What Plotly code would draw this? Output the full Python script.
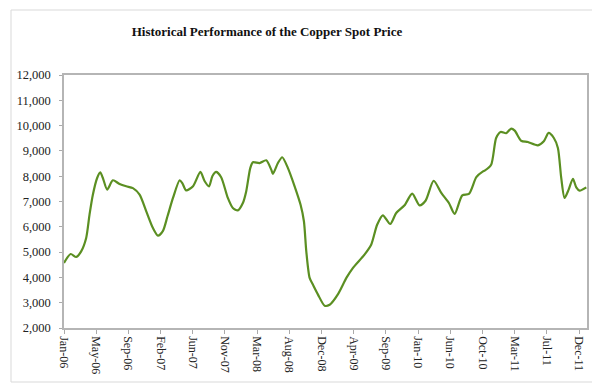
import plotly.graph_objects as go
import pandas as pd

dates = [
    "2006-01-03", "2006-01-31", "2006-02-23", "2006-03-16", "2006-04-06", "2006-04-20",
    "2006-05-04", "2006-05-22", "2006-06-04", "2006-06-15", "2006-07-03", "2006-07-27",
    "2006-08-24", "2006-09-21", "2006-10-19", "2006-11-16", "2006-12-14", "2007-01-11",
    "2007-02-01", "2007-02-22", "2007-03-13", "2007-04-05", "2007-05-03", "2007-05-14",
    "2007-05-30", "2007-06-28", "2007-07-29", "2007-08-16", "2007-09-03", "2007-09-17",
    "2007-10-03", "2007-10-24", "2007-11-21", "2007-12-12", "2008-01-02", "2008-01-23",
    "2008-02-06", "2008-02-23", "2008-03-05", "2008-04-02", "2008-04-30", "2008-05-21",
    "2008-05-28", "2008-06-18", "2008-07-06", "2008-07-30", "2008-08-27", "2008-09-21",
    "2008-10-05", "2008-10-15", "2008-10-29", "2008-11-12", "2008-12-03", "2008-12-31",
    "2009-01-21", "2009-02-25", "2009-04-01", "2009-04-28", "2009-06-16", "2009-07-14",
    "2009-08-08", "2009-09-01", "2009-10-02", "2009-10-27", "2009-12-01", "2010-01-02",
    "2010-02-02", "2010-02-27", "2010-04-02", "2010-05-04", "2010-06-05", "2010-06-29",
    "2010-07-31", "2010-08-28", "2010-09-28", "2010-10-26", "2010-11-02", "2010-11-29",
    "2010-12-20", "2011-01-08", "2011-01-31", "2011-02-21", "2011-03-08", "2011-04-04",
    "2011-05-02", "2011-06-13", "2011-07-08", "2011-07-28", "2011-08-19", "2011-09-05",
    "2011-09-19", "2011-10-03", "2011-10-20", "2011-11-07", "2011-11-21", "2011-12-05",
    "2012-01-02",
]
prices = [
    4570, 4925, 4806, 5030, 5560, 6480,
    7270, 7930, 8150, 7930, 7470, 7840,
    7690, 7600, 7530, 7270, 6610, 5950,
    5650, 5840, 6415, 7140, 7840, 7730,
    7440, 7600, 8170, 7800, 7600, 8000,
    8170, 7960, 7140, 6740, 6650, 6940,
    7400, 8320, 8550, 8520, 8630, 8260,
    8090, 8520, 8750, 8320, 7600, 6870,
    6220, 5030, 3980, 3710, 3320, 2880,
    2920, 3340, 3980, 4370, 4900, 5290,
    6080, 6455, 6110, 6545, 6850, 7310,
    6850, 7030, 7820, 7340, 6940, 6510,
    7245, 7300, 7960, 8190, 8220, 8450,
    9510, 9750, 9700, 9880, 9800, 9400,
    9350, 9220, 9380, 9710, 9510, 9115,
    7930, 7140, 7470, 7900, 7560, 7430,
    7560,
]

tick_labels = ["Jan-06", "May-06", "Sep-06", "Feb-07", "Jun-07", "Nov-07", "Mar-08",
               "Aug-08", "Dec-08", "Apr-09", "Sep-09", "Jan-10", "Jun-10", "Oct-10",
               "Mar-11", "Jul-11", "Dec-11"]
tick_start = pd.Timestamp("2006-01-03")
tick_vals = [tick_start + pd.Timedelta(days=135 * k) for k in range(len(tick_labels))]

y_ticks = list(range(2000, 12001, 1000))

font_family = "Liberation Serif, Times New Roman, serif"

fig = go.Figure()
fig.add_trace(go.Scatter(
    x=pd.to_datetime(dates), y=prices, mode="lines",
    line=dict(color="#5b8f22", width=2.2, shape="spline", smoothing=0.7),
    hoverinfo="x+y", showlegend=False,
))

fig.update_layout(
    width=600, height=384,
    margin=dict(l=56, r=21, t=67, b=64),
    paper_bgcolor="white", plot_bgcolor="white",
    title=dict(text="<b>Historical Performance of the Copper Spot Price</b>",
               xref="container", x=259 / 600, xanchor="center",
               yref="container", y=1 - 23 / 384, yanchor="middle",
               font=dict(family=font_family, size=13, color="#111")),
    font=dict(family=font_family, size=12, color="#222"),
)
fig.update_xaxes(
    type="date", automargin=False,
    range=[pd.Timestamp("2006-01-03"), pd.Timestamp("2012-01-05")],
    tickvals=tick_vals, ticktext=tick_labels, tickangle=90,
    ticks="outside", ticklen=4, tickcolor="#aaaaaa",
    showgrid=False, zeroline=False,
    showline=True, linecolor="#b5b5b5", linewidth=1.5, mirror=True,
    tickfont=dict(family=font_family, size=12, color="#222"),
)
fig.update_yaxes(
    range=[2000, 12000], tickvals=y_ticks, tickformat=",", automargin=False,
    ticks="outside", ticklen=3, tickcolor="#aaaaaa",
    ticklabelstandoff=6,
    showgrid=False, zeroline=False,
    showline=True, linecolor="#b5b5b5", linewidth=1.5, mirror=True,
    tickfont=dict(family=font_family, size=12.5, color="#222"),
)
fig.add_shape(type="rect", xref="paper", yref="paper",
              x0=(3 - 56) / 523, x1=(595 - 56) / 523,
              y0=(320 - 374) / 253, y1=(320 - 2) / 253,
              line=dict(color="#d9d9d9", width=1), layer="below")

fig.write_html("out.html")
